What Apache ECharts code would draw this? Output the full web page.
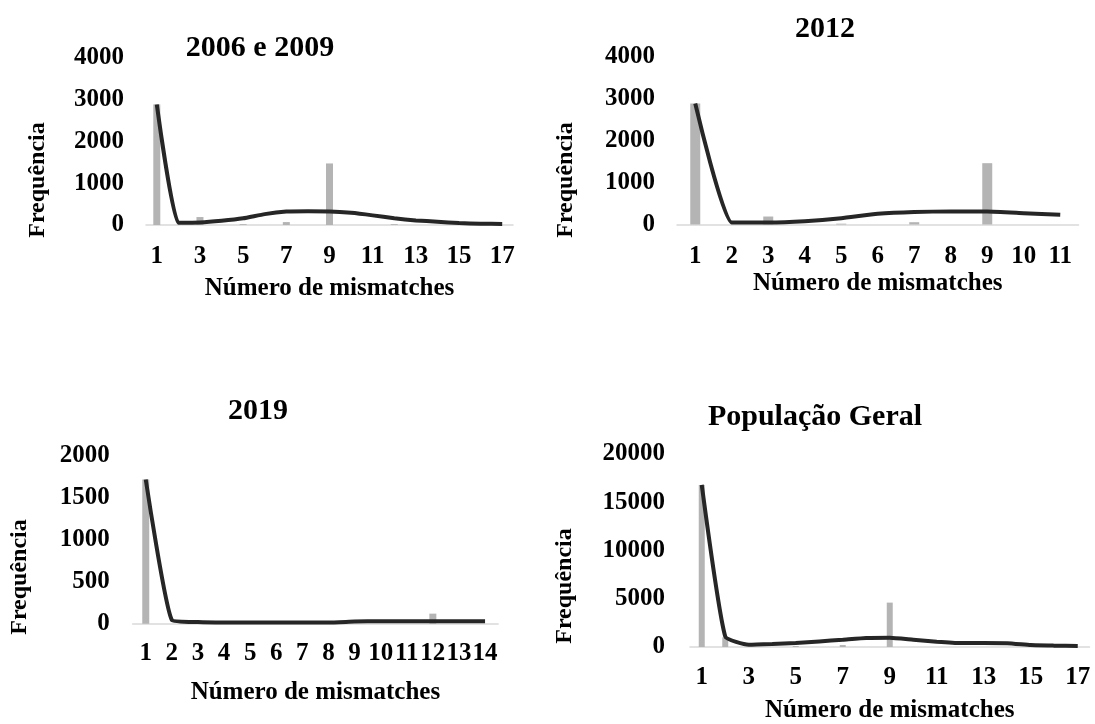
<!DOCTYPE html>
<html>
<head>
<meta charset="utf-8">
<script src="https://cdn.jsdelivr.net/npm/echarts@6/dist/echarts.min.js"></script>
<style>
html,body{margin:0;padding:0;background:#fff;}
#c{width:1095px;height:724px;}
</style>
</head>
<body>
<div id="c"></div>
<script>
// ---- data ----
const cats1 = ['1','2','3','4','5','6','7','8','9','10','11','12','13','14','15','16','17'];
const cats2 = ['1','2','3','4','5','6','7','8','9','10','11'];
const cats3 = ['1','2','3','4','5','6','7','8','9','10','11','12','13','14'];
const cats4 = ['1','2','3','4','5','6','7','8','9','10','11','12','13','14','15','16','17'];

const titles = ['2006 e 2009', '2012', '2019', 'População Geral'];
const xName = 'Número de mismatches';
const yName = 'Frequência';

const bars1 = [2880, 0, 190, 0, 20, 0, 70, 0, 1470, 0, 0, 20, 0, 0, 0, 0, 0];
const line1 = [2880, 55, 60, 100, 160, 260, 320, 330, 325, 290, 230, 160, 110, 80, 45, 30, 25];

const bars2 = [2880, 0, 190, 0, 20, 0, 55, 0, 1460, 0, 0];
const line2 = [2880, 50, 50, 80, 150, 255, 300, 310, 310, 270, 230];

const bars3 = [1720, 0, 0, 0, 0, 0, 0, 0, 0, 0, 0, 120, 0, 0];
const line3 = [1720, 45, 20, 15, 15, 15, 15, 15, 25, 30, 30, 30, 30, 30];

const bars4 = [16800, 1000, 0, 0, 100, 0, 200, 0, 4600, 0, 0, 0, 0, 0, 0, 0, 0];
const line4 = [16800, 1090, 240, 310, 410, 580, 750, 930, 960, 750, 550, 410, 410, 400, 200, 140, 100];

const yMax = [4000, 4000, 2000, 20000];
const yStep = [1000, 1000, 500, 5000];

// ---- chart ----
const FONT = '"Liberation Serif", "Times New Roman", serif';
const cats = [cats1, cats2, cats3, cats4];
const bars = [bars1, bars2, bars3, bars4];
const lines = [line1, line2, line3, line4];

const grids = [
  {left: 146, top: 57.5, width: 367, height: 167.5},
  {left: 677, top: 56.5, width: 401.5, height: 168},
  {left: 132.7, top: 456, width: 365.4, height: 167.7},
  {left: 690, top: 454, width: 399.5, height: 193.3}
];
const labelInterval = [1, 0, 0, 1];
const xLabelMargin = [19, 20, 17, 18];
const xNameGap = [51, 47, 56, 51];
const yLabelMargin = [22, 22, 23, 25];
const barW = [7, 10, 7, 6];
const titlePos = [[260, 33], [825, 14], [258, 396], [815, 402]];
const yNamePos = [[38, 180], [566, 180], [20, 577], [565, 586]];

const option = {
  animation: false,
  backgroundColor: '#fff',
  textStyle: {fontFamily: FONT},
  title: titles.map((t, i) => ({
    text: t,
    left: titlePos[i][0],
    top: titlePos[i][1],
    textAlign: 'center',
    padding: 0,
    textStyle: {fontFamily: FONT, fontSize: 30, fontWeight: 'bold', color: '#000'}
  })),
  grid: grids,
  xAxis: cats.map((c, i) => ({
    type: 'category',
    gridIndex: i,
    data: c,
    boundaryGap: true,
    axisLine: {show: true, lineStyle: {color: '#d9d9d9', width: 1.5}},
    axisTick: {show: false},
    splitLine: {show: false},
    axisLabel: {
      interval: labelInterval[i],
      margin: xLabelMargin[i],
      fontFamily: FONT, fontSize: 25, fontWeight: 'bold', color: '#000'
    },
    name: xName,
    nameLocation: 'middle',
    nameGap: xNameGap[i],
    nameTextStyle: {fontFamily: FONT, fontSize: 25, fontWeight: 'bold', color: '#000'}
  })),
  yAxis: cats.map((c, i) => ({
    type: 'value',
    gridIndex: i,
    min: 0,
    max: yMax[i],
    interval: yStep[i],
    axisLine: {show: false},
    axisTick: {show: false},
    splitLine: {show: false},
    axisLabel: {
      margin: yLabelMargin[i],
      formatter: v => String(v),
      fontFamily: FONT, fontSize: 25, fontWeight: 'bold', color: '#000'
    }
  })),
  graphic: yNamePos.map(p => ({
    type: 'text',
    x: p[0],
    y: p[1],
    rotation: Math.PI / 2,
    style: {
      text: yName,
      fontFamily: FONT, fontSize: 24, fontWeight: 'bold', fill: '#000',
      align: 'center', verticalAlign: 'middle'
    }
  })),
  series: []
};

for (let i = 0; i < 4; i++) {
  option.series.push({
    type: 'bar',
    xAxisIndex: i, yAxisIndex: i,
    data: bars[i],
    barWidth: barW[i],
    itemStyle: {color: '#b4b4b4'},
    silent: true
  });
  option.series.push({
    type: 'line',
    xAxisIndex: i, yAxisIndex: i,
    data: lines[i],
    smooth: 0.15,
    showSymbol: false,
    lineStyle: {color: '#262626', width: 4},
    silent: true,
    z: 3
  });
}

const chart = echarts.init(document.getElementById('c'), null, {renderer: 'canvas'});
chart.setOption(option);
</script>
</body>
</html>
